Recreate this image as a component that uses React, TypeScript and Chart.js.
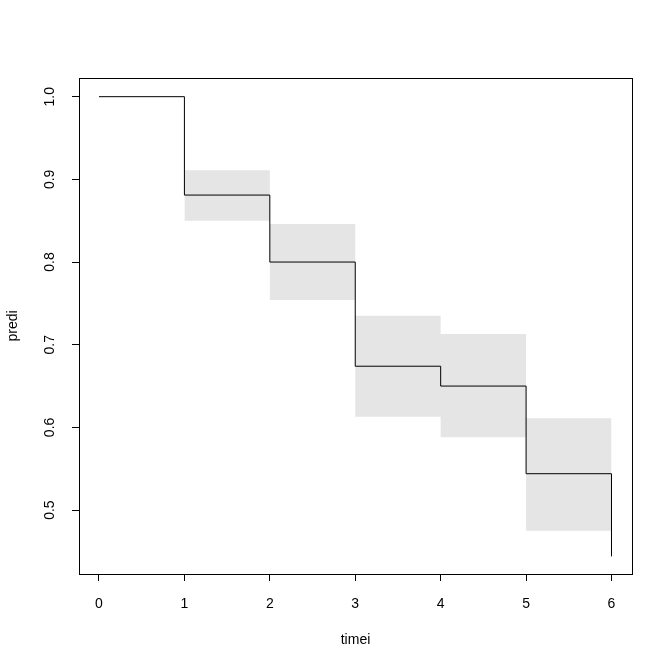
import React, { useEffect, useRef } from "react";
import { Chart, registerables } from "chart.js";

Chart.register(...registerables);

const stepTimes = [0, 1, 2, 3, 4, 5, 6];
const stepSurv = [1.0, 0.881, 0.8, 0.674, 0.65, 0.544, 0.444];
const bandTimes = [1, 2, 3, 4, 5, 6];
const bandUpper = [0.911, 0.846, 0.735, 0.713, 0.611, 0.611];
const bandLower = [0.85, 0.754, 0.613, 0.588, 0.475, 0.475];
const xTicks = [0, 1, 2, 3, 4, 5, 6];
const yTicks = [0.5, 0.6, 0.7, 0.8, 0.9, 1.0];
const xTitle = "timei";
const yTitle = "predi";

const FONT = "'Liberation Sans', Arial, Helvetica, sans-serif";

const boxPlugin = {
  id: "box",
  afterDraw(chart: any) {
    const { ctx, chartArea } = chart;
    ctx.save();
    ctx.strokeStyle = "#000";
    ctx.lineWidth = 1;
    ctx.strokeRect(
      Math.round(chartArea.left) + 0.5,
      Math.round(chartArea.top) + 0.5,
      Math.round(chartArea.right - chartArea.left),
      Math.round(chartArea.bottom - chartArea.top)
    );
    ctx.restore();
  },
};

export default function App() {
  const ref = useRef<HTMLCanvasElement | null>(null);
  useEffect(() => {
    if (!ref.current) return;
    const chart = new Chart(ref.current, {
      type: "line",
      data: {
        datasets: [
          {
            label: "surv",
            data: stepTimes.map((t, i) => ({ x: t, y: stepSurv[i] })),
            borderColor: "#000",
            borderWidth: 1,
            pointRadius: 0,
            stepped: true,
            fill: false,
            order: 0,
          },
          {
            label: "upper",
            data: bandTimes.map((t, i) => ({ x: t, y: bandUpper[i] })),
            borderWidth: 0,
            borderColor: "rgba(0,0,0,0)",
            backgroundColor: "#E5E5E5",
            pointRadius: 0,
            stepped: true,
            fill: "+1",
            order: 1,
          },
          {
            label: "lower",
            data: bandTimes.map((t, i) => ({ x: t, y: bandLower[i] })),
            borderWidth: 0,
            borderColor: "rgba(0,0,0,0)",
            pointRadius: 0,
            stepped: true,
            fill: false,
            order: 2,
          },
        ],
      },
      options: {
        animation: false,
        responsive: false,
        maintainAspectRatio: false,
        layout: { padding: { top: 78, right: 40, left: 0, bottom: 0 } },
        plugins: {
          legend: { display: false },
          tooltip: { enabled: false },
        },
        scales: {
          x: {
            type: "linear",
            min: -0.234,
            max: 6.24,
            afterBuildTicks: (scale: any) => {
              scale.ticks = xTicks.map((v) => ({ value: v }));
            },
            afterFit: (scale: any) => {
              scale.height = 98;
            },
            grid: {
              drawOnChartArea: false,
              drawTicks: true,
              tickLength: 7,
              color: "#000",
            },
            border: { display: true, color: "#000", width: 1 },
            ticks: {
              color: "#000",
              font: { family: FONT, size: 14 },
              padding: 15,
              maxRotation: 0,
              autoSkip: false,
              callback: (v: any) => String(v),
            },
            title: {
              display: true,
              text: xTitle,
              color: "#000",
              font: { family: FONT, size: 14 },
              padding: { top: 0, bottom: 23 },
            },
          },
          y: {
            type: "linear",
            min: 0.4227,
            max: 1.0226,
            afterBuildTicks: (scale: any) => {
              scale.ticks = yTicks.map((v) => ({ value: v }));
            },
            afterFit: (scale: any) => {
              scale.width = 79;
            },
            grid: {
              drawOnChartArea: false,
              drawTicks: true,
              tickLength: 7,
              color: "#000",
            },
            border: { display: true, color: "#000", width: 1 },
            ticks: {
              color: "#000",
              font: { family: FONT, size: 14 },
              padding: 12,
              minRotation: 90,
              maxRotation: 90,
              autoSkip: false,
              crossAlign: "center",
              callback: (v: any) => Number(v).toFixed(1),
            },
            title: {
              display: true,
              text: yTitle,
              color: "#000",
              font: { family: FONT, size: 14 },
              padding: { top: 5, bottom: 5 },
            },
          },
        },
      },
      plugins: [boxPlugin],
    } as any);
    return () => chart.destroy();
  }, []);
  return (
    <div style={{ position: "absolute", left: 0, top: 0, width: 672, height: 672, background: "#fff" }}>
      <canvas ref={ref} width={672} height={672} style={{ width: 672, height: 672 }} />
    </div>
  );
}
